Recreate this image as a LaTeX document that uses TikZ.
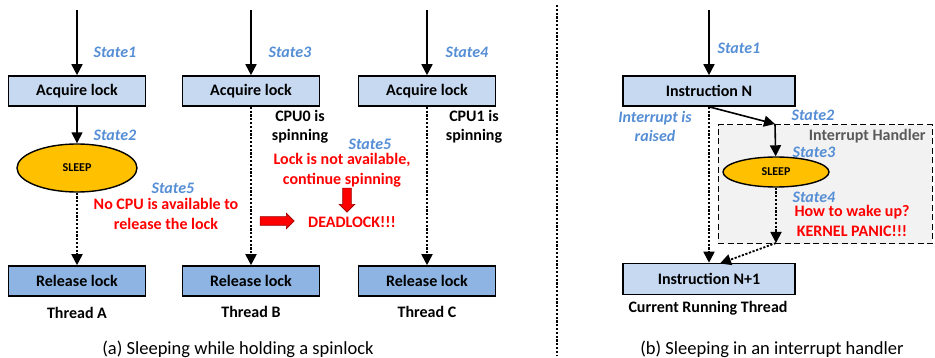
\documentclass[tikz,border=0pt]{standalone}
\usepackage{fontspec}
\setmainfont{Carlito}
\usepackage{xcolor}
\usepackage{tikz}
\usetikzlibrary{shapes.geometric, shapes.arrows, arrows.meta, positioning, calc}

\definecolor{acqblue}{HTML}{C6D9F1}
\definecolor{relblue}{HTML}{8DB4E2}
\definecolor{stateblue}{HTML}{558ED5}
\definecolor{sleepgold}{HTML}{FFC000}
\definecolor{handlergray}{HTML}{F2F2F2}
\definecolor{handlertext}{HTML}{595959}

\begin{document}
\begin{tikzpicture}[
    x=1pt, y=-1pt,
    font=\bfseries\fontsize{16}{19}\selectfont,
    acq/.style={draw=black, fill=acqblue, line width=1.6pt, minimum width=137pt, minimum height=30pt, inner sep=0pt},
    rel/.style={acq, fill=relblue},
    instr/.style={acq, minimum width=172pt},
    sleepnode/.style={ellipse, draw=black, fill=sleepgold, line width=1.4pt, inner sep=0pt, font=\bfseries\fontsize{12}{14}\selectfont},
    statelbl/.style={text=stateblue, inner sep=1pt, font=\bfseries\itshape\fontsize{16}{19}\selectfont, align=center},
    warn/.style={text=red, inner sep=1pt, align=center, font=\bfseries\fontsize{16}{19.5}\selectfont},
    plain/.style={align=center},
    caption/.style={font=\fontsize{18.5}{22}\selectfont},
    msg/.style={-{Triangle[length=11pt, width=11pt]}, line width=1.6pt},
    wait/.style={msg, dash pattern=on 2.2pt off 1.6pt, line width=1.8pt},
    redarrow/.style={single arrow, draw=red!60!black, fill=red, line width=0.6pt, inner sep=4pt, single arrow head extend=3.5pt, single arrow head indent=0pt},
    handlerbox/.style={draw=black, fill=handlergray, line width=1pt, dash pattern=on 6pt off 3.5pt, minimum width=214pt, minimum height=119pt},
    divider/.style={line width=1.8pt, dash pattern=on 2.2pt off 1.6pt}
]
\useasboundingbox (0,0) rectangle (935,358);

% 1. Thread A
\coordinate (startA) at (77,10);
\node[acq] (acqA) at (77,91) {Acquire lock};
\node[sleepnode, minimum width=120pt, minimum height=48pt] (sleepA) at (77,168) {SLEEP};
\node[rel] (relA) at (77,281) {Release lock};
\node (thrA) at (77,313) {Thread A};
\node[statelbl] (stA1) at (115,52) {State1};
\node[statelbl] (stA2) at (115,135) {State2};
\node[statelbl] (stA5) at (173,188) {State5};
\node[warn] (nocpu) at (166,214) {No CPU is available to\\release the lock};

\draw[msg] (startA) -- (acqA);
\draw[msg] (acqA) -- (sleepA);
\draw[wait] (sleepA) -- (relA);

% 2. Thread B
\coordinate (startB) at (251,10);
\node[acq] (acqB) at (251,91) {Acquire lock};
\node[rel] (relB) at (251,281) {Release lock};
\node (thrB) at (251,312) {Thread B};
\node[statelbl] (stB3) at (290,52) {State3};
\node[plain] (cpu0) at (300,127) {CPU0 is\\spinning};
\node[statelbl] (stB5) at (370,144) {State5};
\node[warn] (lockna) at (342,170) {Lock is not available,\\continue spinning};
\node[redarrow, minimum height=24pt, shape border rotate=270] (downarr) at (347,198) {};
\node[redarrow, minimum height=34pt] (rightarr) at (275,221) {};
\node[warn] (deadlock) at (352,222) {DEADLOCK!!!};

\draw[msg] (startB) -- (acqB);
\draw[wait] (acqB) -- (relB);

% 3. Thread C
\coordinate (startC) at (427,10);
\node[acq] (acqC) at (427,91) {Acquire lock};
\node[rel] (relC) at (427,281) {Release lock};
\node (thrC) at (427,312) {Thread C};
\node[statelbl] (stC4) at (467,52) {State4};
\node[plain] (cpu1) at (474,127) {CPU1 is\\spinning};

\draw[msg] (startC) -- (acqC);
\draw[wait] (acqC) -- (relC);

% 4. Divider and captions
\coordinate (divtop) at (557,5);
\coordinate (divbot) at (557,355);
\draw[divider] (divtop) -- (divbot);
\node[caption] (capA) at (238,349) {(a) Sleeping while holding a spinlock};
\node[caption] (capB) at (772,349) {(b) Sleeping in an interrupt handler};

% 5. Interrupt handler
\node[handlerbox] (handler) at (825,184.5) {};
\node[text=handlertext, anchor=east] (handlerlbl) at (929,136) {Interrupt Handler};
\coordinate (startR) at (709,10);
\node[instr] (instrN) at (709,91) {Instruction N};
\node[sleepnode, minimum width=106pt, minimum height=30pt] (sleepR) at (776,172) {SLEEP};
\node[instr, minimum height=31pt] (instrN1) at (709,279) {Instruction N+1};
\node (curr) at (708,308) {Current Running Thread};
\node[statelbl] (stR1) at (739,48) {State1};
\node[statelbl] (intr) at (655,126) {Interrupt is\\raised};
\node[statelbl] (stR2) at (813,115) {State2};
\node[statelbl] (stR3) at (814,152) {State3};
\node[statelbl] (stR4) at (814,197) {State4};
\node[warn] (wake) at (852,221) {How to wake up?\\KERNEL PANIC!!!};
\coordinate (turnR) at (775,124);
\coordinate (lowR) at (776,243);
\coordinate (landR) at (720,263.5);

\draw[msg] (startR) -- (instrN);
\draw[msg] (instrN.south) -- (turnR);
\draw[msg] (turnR) -- (sleepR);
\draw[wait] (sleepR) -- (lowR);
\draw[wait] (lowR) -- (landR);
\draw[wait] (instrN) -- (instrN1);

\end{tikzpicture}
\end{document}
